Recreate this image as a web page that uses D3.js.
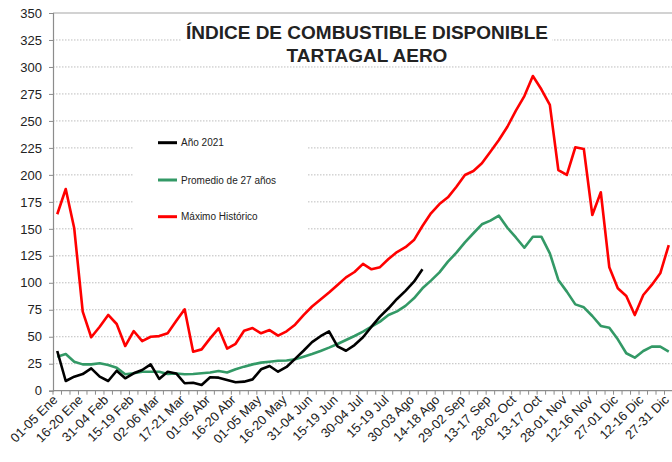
<!DOCTYPE html>
<html>
<head>
<meta charset="utf-8">
<script src="https://cdn.jsdelivr.net/npm/d3@7"></script>
<style>
  html, body { margin: 0; padding: 0; background: #fff; }
  svg text { font-family: "Liberation Sans", Arial, sans-serif; fill: #222; }
</style>
</head>
<body>
<svg id="chart" width="672" height="462"></svg>
<script>
/* ---------- data ---------- */
const periods = [
  "01-05 Ene","06-10 Ene","11-15 Ene","16-20 Ene","21-25 Ene","26-30 Ene","31-04 Feb",
  "05-09 Feb","10-14 Feb","15-19 Feb","20-24 Feb","25-01 Mar","02-06 Mar","07-11 Mar",
  "12-16 Mar","17-21 Mar","22-26 Mar","27-31 Mar","01-05 Abr","06-10 Abr","11-15 Abr",
  "16-20 Abr","21-25 Abr","26-30 Abr","01-05 May","06-10 May","11-15 May","16-20 May",
  "21-25 May","26-30 May","31-04 Jun","05-09 Jun","10-14 Jun","15-19 Jun","20-24 Jun",
  "25-29 Jun","30-04 Jul","05-09 Jul","10-14 Jul","15-19 Jul","20-24 Jul","25-29 Jul",
  "30-03 Ago","04-08 Ago","09-13 Ago","14-18 Ago","19-23 Ago","24-28 Ago","29-02 Sep",
  "03-07 Sep","08-12 Sep","13-17 Sep","18-22 Sep","23-27 Sep","28-02 Oct","03-07 Oct",
  "08-12 Oct","13-17 Oct","18-22 Oct","23-27 Oct","28-01 Nov","02-06 Nov","07-11 Nov",
  "12-16 Nov","17-21 Nov","22-26 Nov","27-01 Dic","02-06 Dic","07-11 Dic","12-16 Dic",
  "17-21 Dic","22-26 Dic","27-31 Dic"
];

const tickLabels = periods.filter((d, i) => i % 3 === 0);

const anio2021 = [
  36.8, 9, 13, 15.4, 20.7, 13, 9, 18.5, 11.5, 16.1, 19.2, 24.4, 10.9, 17.6, 16,
  6.9, 7.4, 5.3, 12.4, 12.1, 9.9, 7.8, 8.4, 10.5, 19.8, 22.9, 17.6, 22,
  29.5, 37, 45, 50.5, 55, 41, 37, 42.3, 49.5, 59.3, 68.6, 76.4, 85, 92.5, 101, 112.5
];

const promedio = [
  31.5, 34, 26.9, 24.4, 24.4, 25.4, 23.8, 21.3, 15.2, 16.1, 17.6, 17.6, 17.6, 15.5, 16,
  15.2, 15.5, 16.1, 16.8, 18.3, 16.8, 19.8, 22.3, 24.4, 26, 26.9, 27.8, 28,
  29.1, 31.5, 34, 36.8, 39.9, 43.3, 47, 50.7, 54.7, 59.3, 64, 70.1, 73.5, 78.6,
  85.6, 94.9, 102, 109.7, 119.6, 127.9, 137.5, 145.9, 154.2, 157.6, 162.2, 151,
  142, 132.5, 142.7, 142.7, 127.3, 102.6, 91.8, 80, 77.3, 69.2, 60, 58.4, 47.6,
  34.7, 30.6, 36.8, 40.8, 40.8, 36.2
];

const maximo = [
  163.5, 186.9, 150.5, 73.2, 49.5, 59.3, 70.2, 61.8, 41.4, 55.3, 46, 50, 50.6, 53.2, 64.5,
  75.4, 36.2, 38.3, 48.5, 57.8, 39, 43.5, 55.6, 58, 53.2, 56.2, 51, 55,
  61.2, 70.1, 78, 84.5, 91, 98, 105, 110, 117.5, 112.5, 114.5, 122, 128.5, 133,
  139.6, 152.6, 164.4, 173, 179.2, 189, 199.9, 203.6, 210.7, 221.5, 232.3, 244.6,
  259.5, 273, 291.6, 279.3, 264.8, 204.5, 199.9, 225.6, 224, 162.8, 183.9, 114.4, 94.9,
  87.8, 70.1, 88.7, 98, 108.8, 135
];

const seriesNames  = ["Año 2021", "Promedio de 27 años", "Máximo Histórico"];
const seriesColors = ["#000000", "#339966", "#ff0000"];
const yTicks = d3.range(0, 351, 25);

/* ---------- layout ---------- */
const svg = d3.select("#chart");
const plot = { left: 53, right: 673, top: 13, bottom: 390.7 };

const x = d3.scaleBand().domain(periods).range([plot.left, plot.right]).padding(0);
const y = d3.scaleLinear().domain([0, 350]).range([plot.bottom, plot.top]);
const cx = d => x(d) + x.bandwidth() / 2;

/* gridlines */
svg.append("g")
  .selectAll("line")
  .data(yTicks.filter(v => v > 0 && v < 350))
  .join("line")
  .attr("x1", plot.left).attr("x2", plot.right)
  .attr("y1", d => y(d)).attr("y2", d => y(d))
  .attr("stroke", "#bdbdbd")
  .attr("stroke-width", 1)
  .attr("stroke-dasharray", "1.5,1.5");

/* top border */
svg.append("line")
  .attr("x1", plot.left).attr("x2", plot.right)
  .attr("y1", y(350)).attr("y2", y(350))
  .attr("stroke", "#a6a6a6").attr("stroke-width", 1.2);

/* y axis */
const yAxis = svg.append("g")
  .attr("transform", `translate(${plot.left},0)`)
  .call(d3.axisLeft(y).tickValues(yTicks).tickSize(4).tickPadding(7).tickFormat(d3.format("d")));
yAxis.select(".domain").attr("stroke", "#8c8c8c").attr("stroke-width", 1.2);
yAxis.selectAll(".tick line").attr("stroke", "#8c8c8c");
yAxis.selectAll("text").style("font-size", "13px").attr("fill", "#222");

/* x axis: boundary ticks + rotated labels */
const xAxis = svg.append("g")
  .attr("transform", `translate(0,${plot.bottom})`);
xAxis.append("line")
  .attr("x1", plot.left).attr("x2", plot.right)
  .attr("stroke", "#8c8c8c").attr("stroke-width", 1.2);
xAxis.selectAll("line.bnd")
  .data(periods)
  .join("line")
  .attr("class", "bnd")
  .attr("x1", d => x(d)).attr("x2", d => x(d))
  .attr("y1", 0).attr("y2", 4)
  .attr("stroke", "#8c8c8c");

const xLab = svg.append("g")
  .attr("transform", `translate(0,${plot.bottom})`)
  .call(d3.axisBottom(x).tickValues(tickLabels).tickSize(0).tickPadding(0));
xLab.select(".domain").remove();
xLab.selectAll("text")
  .style("font-size", "13px")
  .attr("fill", "#222")
  .attr("text-anchor", "end")
  .attr("dy", "0")
  .attr("transform", "translate(1,10) rotate(-45)");

/* title */
svg.append("rect")
  .attr("x", 182).attr("y", 20).attr("width", 370).attr("height", 45)
  .attr("fill", "#fff");
const title = svg.append("text")
  .attr("text-anchor", "middle")
  .style("font-size", "19px")
  .style("font-weight", "bold")
  .attr("fill", "#000");
title.append("tspan").attr("x", 367).attr("y", 38.5).text("ÍNDICE DE COMBUSTIBLE DISPONIBLE");
title.append("tspan").attr("x", 367).attr("y", 62).text("TARTAGAL AERO");

/* lines */
const line = d3.line()
  .x((d, i) => cx(periods[i]))
  .y(d => y(d));

[maximo, promedio, anio2021].forEach((vals, k) => {
  const idx = [2, 1, 0][k];
  svg.append("path")
    .datum(vals)
    .attr("d", line)
    .attr("fill", "none")
    .attr("stroke", seriesColors[idx])
    .attr("stroke-width", 2.6)
    .attr("stroke-linejoin", "round");
});

/* legend */
svg.append("rect")
  .attr("x", 133).attr("y", 125).attr("width", 174).attr("height", 108)
  .attr("fill", "#fff");
const legendY = [142.7, 180, 216.7];
const legend = svg.append("g");
seriesNames.forEach((name, i) => {
  legend.append("line")
    .attr("x1", 158).attr("x2", 177)
    .attr("y1", legendY[i]).attr("y2", legendY[i])
    .attr("stroke", seriesColors[i]).attr("stroke-width", 3);
  legend.append("text")
    .attr("x", 181).attr("y", legendY[i] + 3.6)
    .style("font-size", "10px")
    .attr("fill", "#222")
    .text(name);
});
</script>
</body>
</html>
